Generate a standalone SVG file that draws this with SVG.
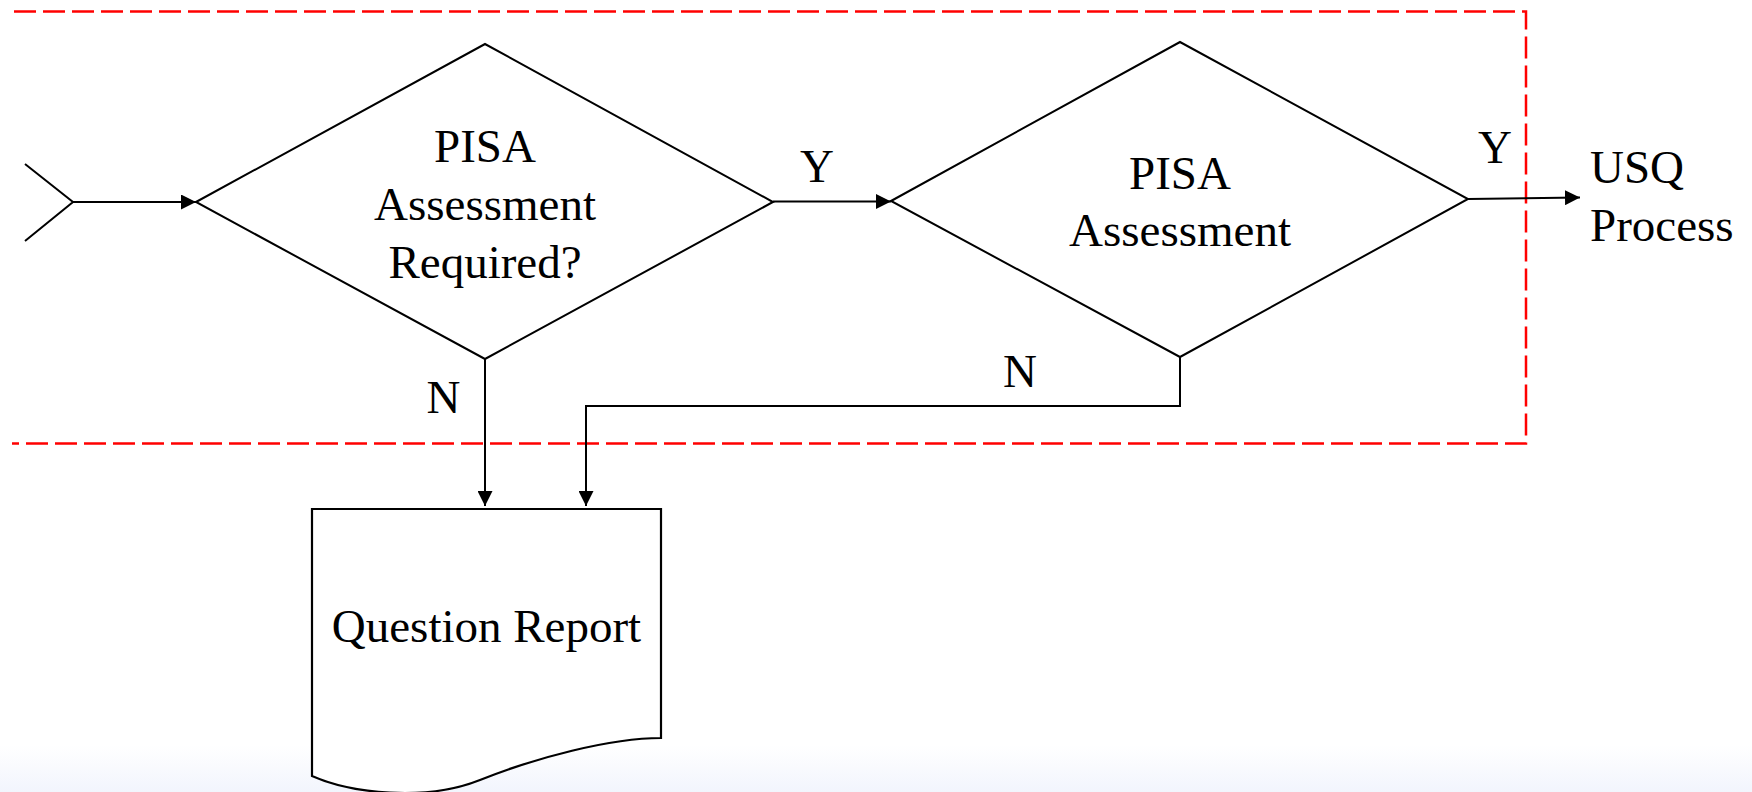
<svg xmlns="http://www.w3.org/2000/svg" width="1752" height="792" viewBox="0 0 1752 792">
  <style>
    .shape { fill: none; stroke: #000; stroke-width: 2; stroke-linejoin: miter; }
    .doc { fill: #fff; stroke: #000; stroke-width: 2.2; }
    .conn { fill: none; stroke: #000; stroke-width: 2; }
    .label { font-family: "Liberation Serif", "Times New Roman", serif; font-size: 47px; fill: #000; }
    .boundary { fill: none; stroke: #ff0000; stroke-width: 2.5; stroke-dasharray: 22 7; }
  </style>
  <defs>
    <linearGradient id="bg" x1="0" y1="0" x2="0" y2="1">
      <stop offset="0" stop-color="#ffffff"/>
      <stop offset="1" stop-color="#f2f5fd"/>
    </linearGradient>
    <marker id="arrow" markerUnits="userSpaceOnUse" markerWidth="16" markerHeight="15" refX="15" refY="7.5" orient="auto">
      <path d="M0,0 L15,7.5 L0,15 Z" fill="#000"/>
    </marker>
  </defs>

  <rect x="0" y="0" width="1752" height="792" fill="#fff"/>
  <rect x="0" y="745" width="1752" height="47" fill="url(#bg)"/>

  <g id="boundary">
    <polyline class="boundary" points="14,11.5 1526,11.5 1526,443.5 12,443.5"/>
  </g>

  <g id="start">
    <polyline class="shape" points="25,164 73,202 25,241"/>
  </g>

  <g id="decision1">
    <polygon class="shape" points="196,202 485,44 773,202 485,359"/>
    <text class="label" x="485" y="162" text-anchor="middle">PISA</text>
    <text class="label" x="485" y="220" text-anchor="middle">Assessment</text>
    <text class="label" x="485" y="278" text-anchor="middle">Required?</text>
  </g>

  <g id="decision2">
    <polygon class="shape" points="891,201 1180,42 1468,199 1180,357"/>
    <text class="label" x="1180" y="189" text-anchor="middle">PISA</text>
    <text class="label" x="1180" y="246" text-anchor="middle">Assessment</text>
  </g>

  <g id="usq">
    <text class="label" x="1590" y="183">USQ</text>
    <text class="label" x="1590" y="241">Process</text>
  </g>

  <g id="report">
    <path class="doc" d="M312,509 H661 V738 C610,738 535,758 480,780 C425,802 350,793 312,776 Z"/>
    <text class="label" x="486.5" y="642" text-anchor="middle">Question Report</text>
  </g>

  <g id="connectors">
    <line class="conn" x1="73" y1="202" x2="196" y2="202" marker-end="url(#arrow)"/>
    <line class="conn" x1="773" y1="201.5" x2="891" y2="201.5" marker-end="url(#arrow)"/>
    <line class="conn" x1="1468" y1="199" x2="1580" y2="197.5" marker-end="url(#arrow)"/>
    <line class="conn" x1="485" y1="359" x2="485" y2="506" marker-end="url(#arrow)"/>
    <polyline class="conn" points="1180,357 1180,406 586,406 586,506" marker-end="url(#arrow)"/>
    <text class="label" x="817" y="182" text-anchor="middle">Y</text>
    <text class="label" x="1495" y="163" text-anchor="middle">Y</text>
    <text class="label" x="443.5" y="413" text-anchor="middle">N</text>
    <text class="label" x="1020" y="387" text-anchor="middle">N</text>
  </g>
</svg>
